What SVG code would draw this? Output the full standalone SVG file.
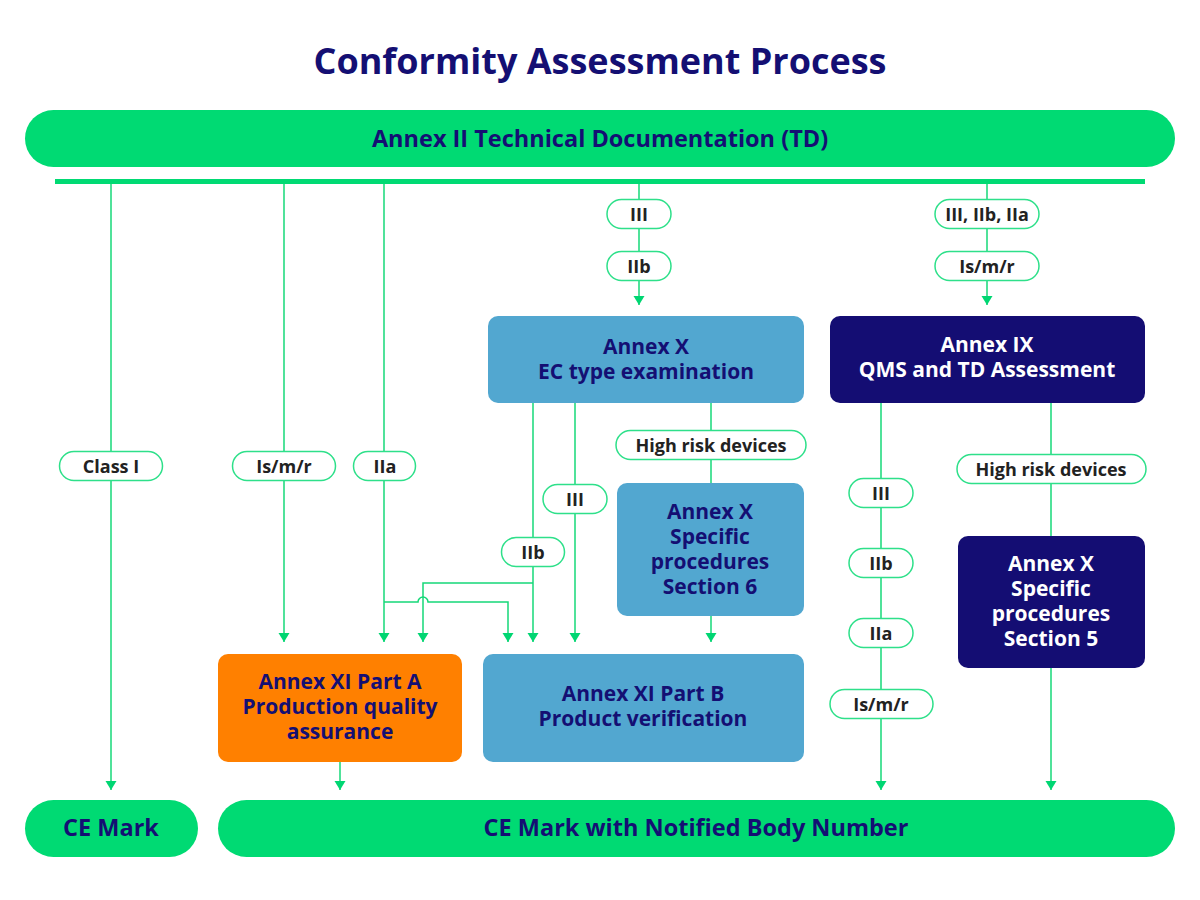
<svg xmlns="http://www.w3.org/2000/svg" width="1200" height="900" viewBox="0 0 1200 900">
<style>
text{font-family:"Open Sans","Noto Sans","Liberation Sans",sans-serif;font-weight:700;text-anchor:middle}
.title{font-size:36px;fill:#140f73}
.bar{fill:#00da73}
.bart{font-size:23.5px;fill:#140f73}
.blue{fill:#52a7d0}
.navy{fill:#140d73}
.orange{fill:#ff8000}
.nt{font-size:21px;fill:#140f73}
.wt{font-size:21px;fill:#ffffff}
.pill rect{fill:#ffffff;stroke:#2ee08a;stroke-width:1.5}
.pill text{font-size:18px;fill:#222222}
.conn path{fill:none;stroke:#16d878;stroke-width:1.5}
</style>
<defs>
<marker id="arr" markerUnits="userSpaceOnUse" markerWidth="12" markerHeight="12" refX="9" refY="5.5" orient="auto">
<path d="M0,0 L9,5.5 L0,11 z" fill="#00d672"/>
</marker>
</defs>
<rect width="1200" height="900" fill="#ffffff"/>
<text class="title" x="600" y="74">Conformity Assessment Process</text>

<g id="td">
<rect class="bar" x="25" y="110" width="1150" height="57" rx="28.5"/>
<text class="bart" x="600" y="147">Annex II Technical Documentation (TD)</text>
</g>
<rect class="bar" x="55" y="179" width="1090" height="5"/>

<g class="conn">
<path d="M111 184 V790" marker-end="url(#arr)"/>
<path d="M284 184 V642" marker-end="url(#arr)"/>
<path d="M384 184 V642" marker-end="url(#arr)"/>
<path d="M639 184 V305" marker-end="url(#arr)"/>
<path d="M987 184 V305" marker-end="url(#arr)"/>
<path d="M533 403 V642" marker-end="url(#arr)"/>
<path d="M575 403 V642" marker-end="url(#arr)"/>
<path d="M711 403 V483"/>
<path d="M711 616 V642" marker-end="url(#arr)"/>
<path d="M533 583 H423 V642" marker-end="url(#arr)"/>
<path d="M384 602 H418 A5 5 0 0 1 428 602 H508 V642" marker-end="url(#arr)"/>
<path d="M340 762 V790" marker-end="url(#arr)"/>
<path d="M881 403 V790" marker-end="url(#arr)"/>
<path d="M1051 403 V536"/>
<path d="M1051 668 V790" marker-end="url(#arr)"/>
</g>

<g id="annexX-ec">
<rect class="blue" x="488" y="316" width="316" height="87" rx="10"/>
<text class="nt" x="646" y="354">Annex X</text>
<text class="nt" x="646" y="379">EC type examination</text>
</g>
<g id="annexIX">
<rect class="navy" x="830" y="316" width="315" height="87" rx="10"/>
<text class="wt" x="987" y="352">Annex IX</text>
<text class="wt" x="987" y="377">QMS and TD Assessment</text>
</g>
<g id="annexX-s6">
<rect class="blue" x="617" y="483" width="187" height="133" rx="10"/>
<text class="nt" x="710" y="519">Annex X</text>
<text class="nt" x="710" y="544">Specific</text>
<text class="nt" x="710" y="569">procedures</text>
<text class="nt" x="710" y="594">Section 6</text>
</g>
<g id="annexX-s5">
<rect class="navy" x="958" y="536" width="187" height="132" rx="10"/>
<text class="wt" x="1051" y="571">Annex X</text>
<text class="wt" x="1051" y="596">Specific</text>
<text class="wt" x="1051" y="621">procedures</text>
<text class="wt" x="1051" y="646">Section 5</text>
</g>
<g id="annexXI-a">
<rect class="orange" x="218" y="654" width="244" height="108" rx="10"/>
<text class="nt" x="340" y="689">Annex XI Part A</text>
<text class="nt" x="340" y="714">Production quality</text>
<text class="nt" x="340" y="739">assurance</text>
</g>
<g id="annexXI-b">
<rect class="blue" x="483" y="654" width="321" height="108" rx="10"/>
<text class="nt" x="643" y="701">Annex XI Part B</text>
<text class="nt" x="643" y="726">Product verification</text>
</g>
<g id="ce">
<rect class="bar" x="25" y="800" width="173" height="57" rx="28.5"/>
<text class="bart" x="111" y="836">CE Mark</text>
</g>
<g id="ce-nb">
<rect class="bar" x="218" y="800" width="957" height="57" rx="28.5"/>
<text class="bart" x="696" y="836">CE Mark with Notified Body Number</text>
</g>

<g class="pill" id="p-class1"><rect x="59.5" y="451.5" width="103" height="29" rx="14.5"/><text x="111" y="472.5">Class I</text></g>
<g class="pill" id="p-ismr1"><rect x="232.5" y="451.5" width="103" height="29" rx="14.5"/><text x="284" y="472.5">Is/m/r</text></g>
<g class="pill" id="p-iia1"><rect x="353.5" y="451.5" width="62" height="29" rx="14.5"/><text x="385" y="472.5">IIa</text></g>
<g class="pill" id="p-iii1"><rect x="607" y="199.5" width="64" height="29" rx="14.5"/><text x="639" y="220.5">III</text></g>
<g class="pill" id="p-iib1"><rect x="607" y="251.5" width="64" height="29" rx="14.5"/><text x="639" y="272.5">IIb</text></g>
<g class="pill" id="p-all"><rect x="935" y="199.5" width="104" height="29" rx="14.5"/><text x="987" y="220.5">III, IIb, IIa</text></g>
<g class="pill" id="p-ismr2"><rect x="935" y="251.5" width="104" height="29" rx="14.5"/><text x="987" y="272.5">Is/m/r</text></g>
<g class="pill" id="p-hr1"><rect x="616" y="430.5" width="190" height="29" rx="14.5"/><text x="711" y="451.5">High risk devices</text></g>
<g class="pill" id="p-iii2"><rect x="543" y="484.5" width="64" height="29" rx="14.5"/><text x="575" y="505.5">III</text></g>
<g class="pill" id="p-iib2"><rect x="501.5" y="537.5" width="63" height="29" rx="14.5"/><text x="533" y="558.5">IIb</text></g>
<g class="pill" id="p-iii3"><rect x="849" y="478.5" width="64" height="29" rx="14.5"/><text x="881" y="499.5">III</text></g>
<g class="pill" id="p-iib3"><rect x="849" y="548.5" width="64" height="29" rx="14.5"/><text x="881" y="569.5">IIb</text></g>
<g class="pill" id="p-iia3"><rect x="849" y="618.5" width="64" height="29" rx="14.5"/><text x="881" y="639.5">IIa</text></g>
<g class="pill" id="p-ismr3"><rect x="830" y="689.5" width="103" height="29" rx="14.5"/><text x="881" y="710.5">Is/m/r</text></g>
<g class="pill" id="p-hr2"><rect x="957" y="454.5" width="189" height="29" rx="14.5"/><text x="1051" y="475.5">High risk devices</text></g>
</svg>
